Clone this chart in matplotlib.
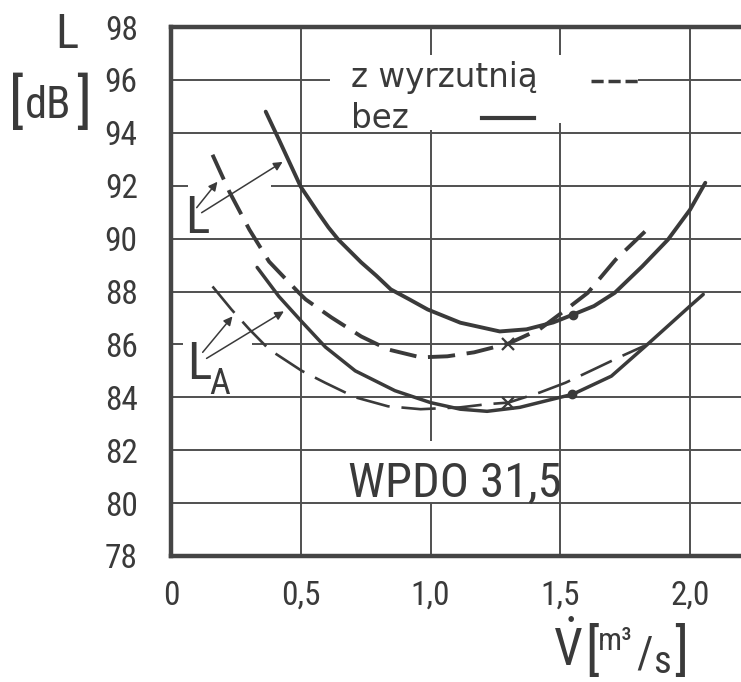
import matplotlib.pyplot as plt

plt.rcParams['font.family'] = ['Roboto Condensed', 'DejaVu Sans']
plt.rcParams['mathtext.fontset'] = 'custom'
plt.rcParams['mathtext.rm'] = 'Roboto Condensed'

INK = '#3a3a3a'
GRID = '#505050'

# values: V [m3/s] -> L [dB]
# L, bez (solid)
l_bez_x = [0.365, 0.416, 0.5, 0.569, 0.607, 0.645, 0.733, 0.791, 0.847, 0.919,
           0.989, 1.115, 1.267, 1.37, 1.473, 1.55, 1.63, 1.71, 1.816, 1.915,
           2.0, 2.059]
l_bez_y = [94.8, 93.74, 91.96, 90.95, 90.42, 89.96, 89.1, 88.6, 88.08, 87.7,
           87.32, 86.82, 86.49, 86.57, 86.83, 87.13, 87.45, 87.95, 88.95, 89.96,
           91.09, 92.11]
# L, z wyrzutnią (dashed)
l_wyrz_x = [0.160, 0.225, 0.302, 0.378, 0.492, 0.519, 0.618, 0.733, 0.836, 0.962,
            1.065, 1.168, 1.30, 1.42, 1.52, 1.606, 1.713, 1.83]
l_wyrz_y = [93.17, 91.77, 90.34, 89.13, 87.96, 87.70, 87.02, 86.3, 85.81, 85.51,
            85.55, 85.7, 86.03, 86.57, 87.3, 87.95, 89.2, 90.3]
# LA, bez (solid)
la_bez_x = [0.332, 0.416, 0.5, 0.595, 0.71, 0.863, 1.0, 1.115, 1.218, 1.344,
            1.5, 1.547, 1.697, 1.836, 1.921, 2.0, 2.051]
la_bez_y = [88.91, 87.81, 86.9, 85.9, 85.0, 84.25, 83.8, 83.55, 83.47, 83.62,
            84.0, 84.11, 84.8, 86.0, 86.75, 87.45, 87.89]
# LA, z wyrzutnią (dashed)
la_wyrz_x = [0.160, 0.233, 0.302, 0.378, 0.504, 0.594, 0.71, 0.836, 0.962, 1.115,
             1.218, 1.30, 1.421, 1.52, 1.63, 1.737, 1.823]
la_wyrz_y = [88.19, 87.32, 86.57, 85.81, 85.0, 84.55, 84.0, 83.66, 83.55, 83.62,
             83.74, 83.8, 84.18, 84.55, 85.06, 85.56, 85.94]

# measuring points marked on the curves
cross_x = [1.30, 1.30]
cross_y = [86.03, 83.8]
dot_x = [1.55, 1.547]
dot_y = [87.13, 84.11]

x_ticks = [0, 0.5, 1.0, 1.5, 2.0]
x_tick_labels = ['0', '0,5', '1,0', '1,5', '2,0']
y_ticks = [78, 80, 82, 84, 86, 88, 90, 92, 94, 96, 98]
y_tick_labels = ['78', '80', '82', '84', '86', '88', '90', '92', '94', '96', '98']

W, H = 741, 682


def fx(px):
    return px / W


def fy(py):
    return 1 - py / H


fig = plt.figure(figsize=(W / 100, H / 100), dpi=100)
ax = fig.add_axes([fx(171), fy(556), 570 / W, 529 / H])
ax.set_xlim(0, 570 / 259.5)
ax.set_ylim(78, 98)

for side in ['left', 'bottom', 'top']:
    ax.spines[side].set_linewidth(3.2)
    ax.spines[side].set_color('#454545')
    ax.spines[side].set_capstyle('projecting')
ax.spines['right'].set_visible(False)

ax.set_xticks(x_ticks)
ax.set_xticklabels(x_tick_labels)
ax.set_yticks(y_ticks)
ax.set_yticklabels(y_tick_labels)
ax.tick_params(axis='both', length=0, labelsize=24, labelcolor=INK)
ax.tick_params(axis='y', pad=24)
ax.tick_params(axis='x', pad=17)

# grid, with the gaps the drawing leaves around its lettering
grid_kw = dict(color=GRID, lw=1.4, zorder=1)
for yv in [80, 82, 84, 88, 90, 94]:
    ax.hlines(yv, 0, 2.3, **grid_kw)
ax.hlines(96, 0, 0.614, **grid_kw)
ax.hlines(96, 1.80, 2.3, **grid_kw)
ax.hlines(92, 0, 0.065, **grid_kw)
ax.hlines(92, 0.386, 2.3, **grid_kw)
ax.hlines(86, 0, 0.045, **grid_kw)
ax.hlines(86, 0.313, 2.3, **grid_kw)
ax.vlines(0.5, 78, 98, **grid_kw)
ax.vlines(2.0, 78, 98, **grid_kw)
ax.vlines(1.0, 78, 80, **grid_kw)
ax.vlines(1.0, 82.35, 94.1, **grid_kw)
ax.vlines(1.0, 96.94, 98, **grid_kw)
ax.vlines(1.5, 78, 94.38, **grid_kw)
ax.vlines(1.5, 96.94, 98, **grid_kw)

# curves
ax.plot(l_bez_x, l_bez_y, color=INK, lw=2.8, zorder=3, solid_capstyle='round')
ax.plot(l_wyrz_x, l_wyrz_y, color=INK, lw=2.8, dashes=(7, 3), zorder=3)
ax.plot(la_bez_x, la_bez_y, color=INK, lw=2.5, zorder=3, solid_capstyle='round')
ax.plot(la_wyrz_x, la_wyrz_y, color=INK, lw=1.9, dashes=(13, 4.5), zorder=3)
ax.plot(cross_x, cross_y, 'x', color=INK, ms=9, mew=1.6, zorder=4)
ax.plot(dot_x, dot_y, 'o', color=INK, ms=6, zorder=4)

# curve labels with pointer arrows
arrow_kw = dict(arrowstyle='-|>', lw=1.1, color=INK, mutation_scale=13,
                shrinkA=0, shrinkB=0)
ax.annotate('', xy=(0.179, 92.15), xytext=(0.099, 91.17), arrowprops=arrow_kw)
ax.annotate('', xy=(0.43, 92.9), xytext=(0.118, 90.98), arrowprops=arrow_kw)
ax.annotate('', xy=(0.237, 87.06), xytext=(0.122, 85.70), arrowprops=arrow_kw)
ax.annotate('', xy=(0.435, 87.25), xytext=(0.137, 85.47), arrowprops=arrow_kw)
ax.text(0.053, 90.23, 'L', fontsize=37, color=INK, va='baseline')
ax.text(0.061, 84.68, 'L', fontsize=37, color=INK, va='baseline')
ax.text(0.146, 84.11, 'A', fontsize=26, color=INK, va='baseline')

# legend drawn in the grid
ax.text(0.695, 95.74, 'z wyrzutnią', fontsize=23.5, color=INK, va='baseline',
        family='DejaVu Sans')
ax.text(0.695, 94.19, 'bez', fontsize=23.5, color=INK, va='baseline',
        family='DejaVu Sans')
ax.plot([1.618, 1.80], [95.97, 95.97], color=INK, lw=2.5, dashes=(3.5, 1.4))
ax.plot([1.198, 1.40], [94.57, 94.57], color=INK, lw=3)

ax.text(0.683, 80.23, 'WPDO 31,5', fontsize=35, color=INK, va='baseline')

# axis titles
fig.text(fx(55), fy(48), 'L', fontsize=35, color=INK, va='baseline')
fig.text(fx(9), fy(121), '[', fontsize=43, color=INK, va='baseline')
fig.text(fx(25), fy(118), 'dB', fontsize=32, color=INK, va='baseline')
fig.text(fx(91), fy(121), ']', fontsize=43, color=INK, va='baseline', ha='right')

fig.text(fx(553), fy(677), r'$\dot{\mathrm{V}}$', fontsize=37, color=INK, va='bottom')
fig.text(fx(585), fy(669), '[', fontsize=40, color=INK, va='baseline')
fig.text(fx(598), fy(650), 'm³', fontsize=23, color=INK, va='baseline')
fig.text(fx(636), fy(668), '/', fontsize=32, color=INK, va='baseline')
fig.text(fx(653), fy(673), 's', fontsize=28, color=INK, va='baseline')
fig.text(fx(688), fy(669), ']', fontsize=40, color=INK, va='baseline', ha='right')

fig.savefig('out.png', dpi=100, facecolor='white')
